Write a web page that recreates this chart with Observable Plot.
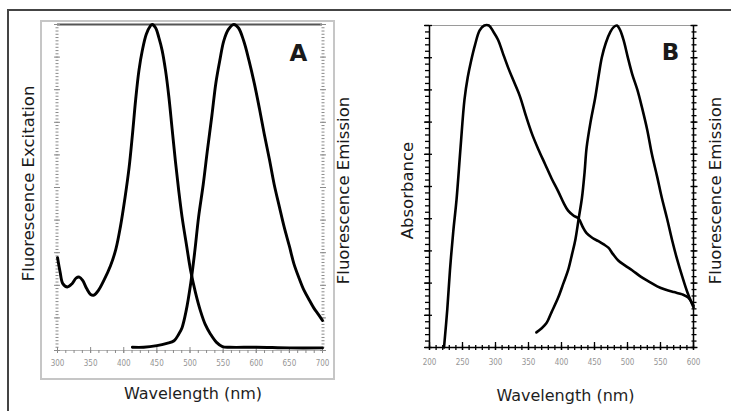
<!DOCTYPE html>
<html><head><meta charset="utf-8">
<script src="https://cdn.jsdelivr.net/npm/d3@7"></script>
<script src="https://cdn.jsdelivr.net/npm/@observablehq/plot@0.6"></script>
<style>
body{margin:0;background:#fff;}
#wrap{position:relative;width:731px;height:411px;overflow:hidden;background:#fff;font-family:"DejaVu Sans",sans-serif;}
#outer{position:absolute;left:7px;top:9px;width:730px;height:410px;border-top:2px solid #444;border-left:2px solid #444;}
#frameA{position:absolute;left:40px;top:20px;width:291px;height:356px;border:2px solid #c6c6c6;}
.chart{position:absolute;top:0;}
</style></head><body>
<div id="wrap"><div id="outer"></div><div id="frameA"></div><div id="A" class="chart" style="left:0"></div><div id="B" class="chart" style="left:365px"></div></div>
<script>
// ---------- Panel A data ----------
const excA_wl = [300,304,308,315,322,328,333,338,344,350,355,362,370,380,388,395,402,408,413,418,423,428,434,440,443,448,453,458,463,468,473,478,483,488,495,501,508,516,523,531,540,549,560,600,650,700];
const excA_val = [0.285,0.24,0.205,0.195,0.205,0.222,0.225,0.215,0.19,0.172,0.17,0.185,0.215,0.26,0.31,0.38,0.47,0.56,0.66,0.77,0.86,0.92,0.97,0.995,1.0,0.99,0.96,0.92,0.86,0.78,0.68,0.58,0.49,0.41,0.32,0.245,0.18,0.12,0.08,0.05,0.025,0.012,0.01,0.01,0.008,0.008];
const emA_wl = [413,430,450,465,476,483,488,494,501,507,513,520,526,533,539,545,551,558,566,573,581,589,597,605,612,620,627,635,642,650,657,665,672,680,687,694,700];
const emA_val = [0.01,0.01,0.015,0.022,0.03,0.05,0.07,0.12,0.205,0.30,0.41,0.51,0.61,0.72,0.82,0.89,0.95,0.985,1.0,0.99,0.95,0.89,0.82,0.74,0.665,0.585,0.51,0.44,0.38,0.32,0.265,0.22,0.185,0.155,0.13,0.11,0.092];
const xTicksA = [300,350,400,450,500,550,600,650,700];
const xLabelsA = ["300","350","400","450","500","550","600","650","700"];

// ---------- Panel B data ----------
const absB_wl = [222,227,231,236,241,247,253,258,263,269,276,283,290,297,304,311,319,328,337,346,355,365,375,385,395,403,410,418,426,432,438,447,456,464,471,478,486,496,507,520,532,545,557,570,583,592,600];
const absB_val = [0.0,0.12,0.24,0.36,0.46,0.62,0.77,0.84,0.89,0.94,0.985,1.0,1.0,0.98,0.955,0.915,0.87,0.825,0.78,0.72,0.665,0.615,0.57,0.525,0.485,0.45,0.425,0.41,0.40,0.375,0.355,0.34,0.33,0.32,0.31,0.29,0.27,0.255,0.24,0.22,0.205,0.19,0.18,0.172,0.165,0.155,0.13];
const emB_wl = [362,370,377,385,395,403,410,416,421,426,431,435,438,444,451,456,461,467,474,479,484,489,494,500,507,515,522,530,537,545,552,560,568,575,583,591,600];
const emB_val = [0.047,0.06,0.075,0.11,0.155,0.2,0.24,0.29,0.335,0.40,0.465,0.545,0.62,0.70,0.775,0.84,0.90,0.945,0.98,0.995,1.0,0.985,0.955,0.905,0.85,0.80,0.745,0.675,0.60,0.53,0.465,0.40,0.33,0.275,0.22,0.17,0.125];
const xTicksB = [200,250,300,350,400,450,500,550,600];
const xLabelsB = ["200","250","300","350","400","450","500","550","600"];

const toRows = (wl, v) => wl.map((w, i) => ({wl: w, v: v[i]}));
const excA = toRows(excA_wl, excA_val), emA = toRows(emA_wl, emA_val);
const absB = toRows(absB_wl, absB_val), emB = toRows(emB_wl, emB_val);

const axisFont = "DejaVu Sans";
const labelStyle = {fontSize: 16.5, fill: "#1a1a1a", fontFamily: axisFont};
const xTitleStyle = {fontSize: 16, fill: "#1e1e1e", fontFamily: axisFont};

// ---------- Chart A ----------
const yMinorA = d3.range(0, 100.5, 1).map(d => d / 100);
const yMajorA = d3.range(0, 10.5, 1).map(d => d / 10);
const xMinorA = d3.range(300, 700.1, 12.5);
const gA = "#8a8a8a";
const chartA = Plot.plot({
  width: 365, height: 411,
  marginLeft: 57, marginRight: 43, marginTop: 24, marginBottom: 61,
  style: {background: "transparent", overflow: "visible", fontFamily: axisFont},
  x: {domain: [300, 700]},
  y: {domain: [0, 1]},
  marks: [
    Plot.ruleY([0], {stroke: "#b5b5b5", strokeWidth: 1}),
    Plot.ruleY([1], {stroke: "#555", strokeWidth: 2}),
    Plot.axisY(yMinorA, {anchor: "left", tickSize: 3, dx: 1.5, fill: "none", stroke: gA, label: null}),
    Plot.axisY(yMajorA, {anchor: "left", tickSize: 6, dx: 3, fill: "none", stroke: gA, label: null}),
    Plot.axisY(yMinorA, {anchor: "right", tickSize: 3, dx: -1.5, fill: "none", stroke: gA, label: null}),
    Plot.axisY(yMajorA, {anchor: "right", tickSize: 6, dx: -3, fill: "none", stroke: gA, label: null}),
    Plot.axisX(xMinorA, {anchor: "bottom", tickSize: 3, fill: "none", stroke: gA, label: null}),
    Plot.axisX(xTicksA, {anchor: "bottom", tickSize: 6, dy: -3, fill: "none", stroke: gA, label: null}),
    Plot.axisX(xTicksA, {anchor: "bottom", tickSize: 0, tickPadding: 10, tickFormat: (d, i) => xLabelsA[i], fontSize: 8, fill: "#959595", label: null, fontFamily: "DejaVu Sans Condensed"}),
    Plot.line(excA, {x: "wl", y: "v", stroke: "#000", strokeWidth: 2.9, curve: "catmull-rom"}),
    Plot.line(emA, {x: "wl", y: "v", stroke: "#000", strokeWidth: 2.9, curve: "catmull-rom"}),
    Plot.text(["Fluorescence Excitation"], {frameAnchor: "left", rotate: -90, dx: -29, dy: -4, textAnchor: "middle", lineAnchor: "middle", ...labelStyle}),
    Plot.text(["Fluorescence Emission"], {frameAnchor: "right", rotate: -90, dx: 21, dy: 3, textAnchor: "middle", lineAnchor: "middle", ...labelStyle}),
    Plot.text(["Wavelength (nm)"], {frameAnchor: "bottom", dx: 3, dy: 43, textAnchor: "middle", lineAnchor: "middle", ...xTitleStyle}),
    Plot.text(["A"], {frameAnchor: "top-right", dx: -24, dy: 29.5, textAnchor: "middle", lineAnchor: "middle", fontSize: 23, fontWeight: "bold", fill: "#1a1a1a", fontFamily: axisFont})
  ]
});
document.getElementById("A").appendChild(chartA);

// ---------- Chart B ----------
const yMinorB = d3.range(0, 50.5, 1).map(d => d / 50);
const yMajorB = d3.range(0, 10.5, 1).map(d => d / 10);
const xMinorB = d3.range(200, 600.1, 10);
const chartB = Plot.plot({
  width: 366, height: 411,
  marginLeft: 64, marginRight: 38, marginTop: 25, marginBottom: 64,
  style: {background: "transparent", overflow: "visible", fontFamily: axisFont},
  x: {domain: [200, 600]},
  y: {domain: [0, 1]},
  marks: [
    Plot.ruleY([1], {stroke: "#9a9a9a", strokeWidth: 1}),
    Plot.ruleY([0], {stroke: "#000", strokeWidth: 1.5}),
    Plot.ruleX([200], {stroke: "#000", strokeWidth: 1.5}),
    Plot.ruleX([600], {stroke: "#000", strokeWidth: 1.5}),
    Plot.axisY(yMinorB, {anchor: "left", tickSize: 4, fill: "none", stroke: "#000", strokeWidth: 1.3, label: null}),
    Plot.axisY(yMajorB, {anchor: "left", tickSize: 8, dx: 3, fill: "none", stroke: "#000", strokeWidth: 1.3, label: null}),
    Plot.axisY(yMinorB, {anchor: "right", tickSize: 5, dx: -2.5, fill: "none", stroke: "#000", strokeWidth: 1.3, label: null}),
    Plot.axisY(yMajorB, {anchor: "right", tickSize: 7, dx: -3.5, fill: "none", stroke: "#000", strokeWidth: 1.3, label: null}),
    Plot.axisX(xMinorB, {anchor: "bottom", tickSize: 5, dy: -2, fill: "none", stroke: "#000", strokeWidth: 1.3, label: null}),
    Plot.axisX(xTicksB, {anchor: "bottom", tickSize: 8, dy: -5, fill: "none", stroke: "#000", strokeWidth: 1.3, label: null}),
    Plot.axisX(xTicksB, {anchor: "bottom", tickSize: 0, tickPadding: 12, tickFormat: (d, i) => xLabelsB[i], fontSize: 8, fill: "#959595", label: null, fontFamily: "DejaVu Sans Condensed"}),
    Plot.line(absB, {x: "wl", y: "v", stroke: "#000", strokeWidth: 2.6, curve: "catmull-rom"}),
    Plot.line(emB, {x: "wl", y: "v", stroke: "#000", strokeWidth: 2.6, curve: "catmull-rom"}),
    Plot.text(["Absorbance"], {frameAnchor: "left", rotate: -90, dx: -22, dy: 4, textAnchor: "middle", lineAnchor: "middle", ...labelStyle}),
    Plot.text(["Fluorescence Emission"], {frameAnchor: "right", rotate: -90, dx: 22, dy: 4, textAnchor: "middle", lineAnchor: "middle", ...labelStyle}),
    Plot.text(["Wavelength (nm)"], {frameAnchor: "bottom", dx: 4, dy: 48, textAnchor: "middle", lineAnchor: "middle", ...xTitleStyle}),
    Plot.text(["B"], {frameAnchor: "top-right", dx: -23, dy: 27.5, textAnchor: "middle", lineAnchor: "middle", fontSize: 23, fontWeight: "bold", fill: "#1a1a1a", fontFamily: axisFont})
  ]
});
document.getElementById("B").appendChild(chartB);
</script>
</body></html>
